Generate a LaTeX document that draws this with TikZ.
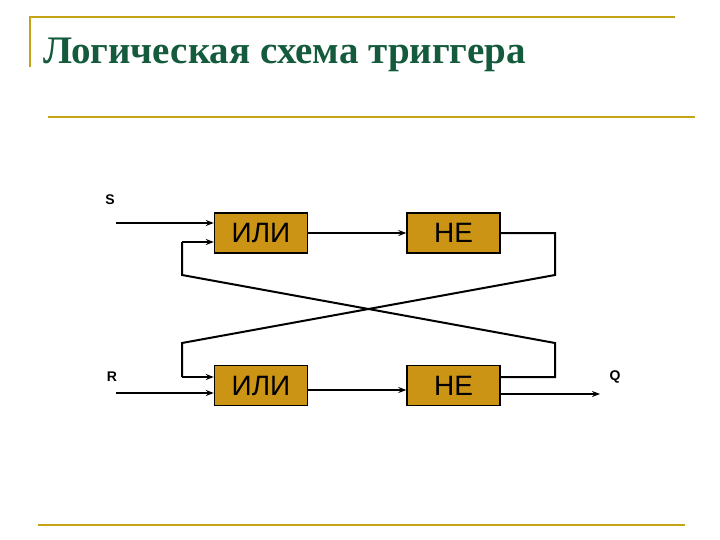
\documentclass[tikz,border=0pt]{standalone}
\usepackage{fontspec}
\setmainfont{Liberation Serif}
\newfontfamily\sansf{Liberation Sans}
\usetikzlibrary{arrows.meta}
\definecolor{gold}{RGB}{196,164,20}
\definecolor{boxfill}{RGB}{204,148,20}
\definecolor{titlegreen}{RGB}{20,90,60}
\begin{document}
\begin{tikzpicture}[x=1pt,y=-1pt,
  gate/.style={draw=black,line width=1.4pt,fill=boxfill,minimum width=93pt,minimum height=40pt,font=\sansf\fontsize{28}{30}\selectfont,inner sep=0pt},
  wire/.style={line width=2pt},
  arr/.style={wire,-{Stealth[length=8pt,width=6pt]}},
  lbl/.style={font=\sansf\bfseries\fontsize{14}{15}\selectfont},
  rule/.style={draw=gold,line width=1.8pt}]
\useasboundingbox (0,0) rectangle (720,540);
\draw[rule] (30,67) -- (30,17) -- (675,17);
\draw[rule] (48,117) -- (695,117);
\draw[rule] (38,525) -- (685,525);
\node[anchor=base west,text=titlegreen,font=\bfseries\fontsize{39}{42}\selectfont,inner sep=0pt] (title) at (43,64) {Логическая схема триггера};
\node[gate] (or1) at (261,233) {ИЛИ};
\node[gate] (not1) at (453.5,233) {НЕ};
\node[gate] (or2) at (261,385.5) {ИЛИ};
\node[gate] (not2) at (453.5,385.5) {НЕ};
\node[lbl] (S) at (110,200) {S};
\node[lbl] (R) at (112,377) {R};
\node[lbl] (Q) at (615,377) {Q};
\coordinate (sin) at (116,223);
\coordinate (rin) at (116,393);
\coordinate (qout) at (600,394);
\draw[arr] (sin) -- (sin -| or1.west);
\draw[arr] (rin) -- (rin -| or2.west);
\draw[arr] (or1.east) -- (not1.west);
\draw[arr] (or2.east |- 0,390) -- (not2.west |- 0,390);
\draw[arr] (not2.east |- qout) -- (qout);
\draw[wire] (not1.east) -- (555,233) -- (555,275) -- (182,343) -- (182,377) edge[arr] (or2.west |- 0,377);
\draw[wire] (not2.east |- 0,377) -- (555,377) -- (555,343) -- (182,275) -- (182,242) edge[arr] (or1.west |- 0,242);
\end{tikzpicture}
\end{document}
